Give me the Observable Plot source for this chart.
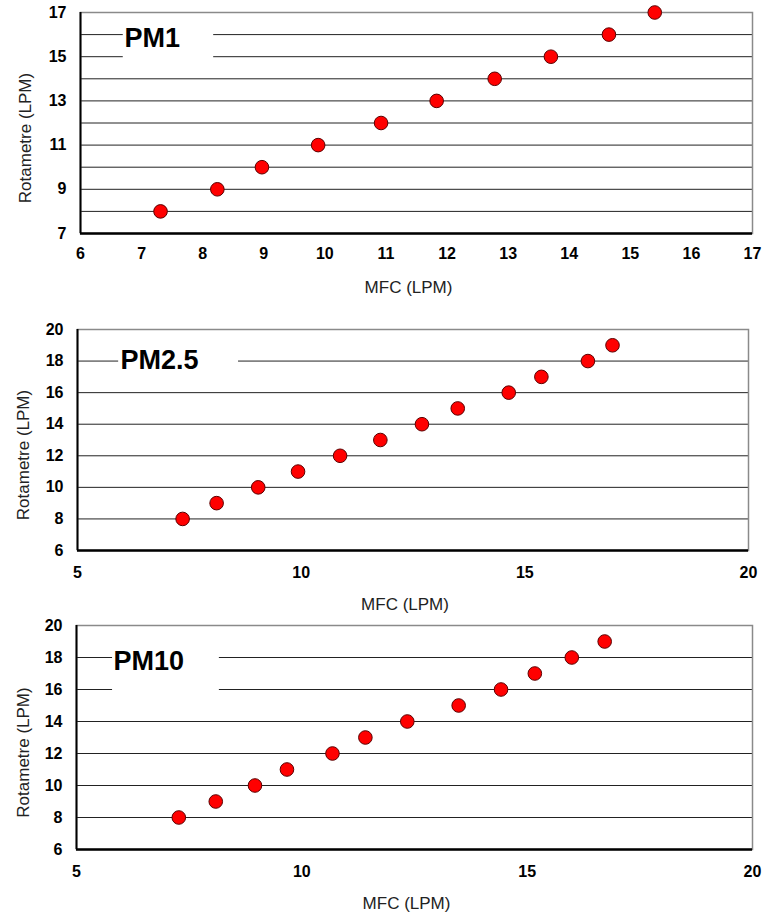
<!DOCTYPE html>
<html>
<head>
<meta charset="utf-8">
<script src="https://cdn.jsdelivr.net/npm/d3@7"></script>
<script src="https://cdn.jsdelivr.net/npm/@observablehq/plot@0.6"></script>
<style>
  html, body { margin: 0; padding: 0; background: #fff; }
  #chart { width: 766px; }
  #chart svg { display: block; }
</style>
</head>
<body>
<div id="chart"></div>
<script>
// ---- data ----
const pm1MFC = [7.31, 8.24, 8.97, 9.89, 10.92, 11.83, 12.78, 13.70, 14.65, 15.40];
const pm1Rot = [8, 9, 10, 11, 12, 13, 14, 15, 16, 17];

const pm25MFC = [7.35, 8.11, 9.04, 9.93, 10.87, 11.77, 12.70, 13.50, 14.64, 15.37, 16.41, 16.96];
const pm25Rot = [8, 9, 10, 11, 12, 13, 14, 15, 16, 17, 18, 19];

const pm10MFC = [7.27, 8.09, 8.96, 9.67, 10.68, 11.41, 12.34, 13.48, 14.42, 15.17, 15.99, 16.72];
const pm10Rot = [8, 9, 10, 11, 12, 13, 14, 15, 16, 17, 18, 19];

const pm1XTicks = [6, 7, 8, 9, 10, 11, 12, 13, 14, 15, 16, 17];
const pm1YTicks = [7, 9, 11, 13, 15, 17];
const pm1Grid = [8, 9, 10, 11, 12, 13, 14, 15, 16];

const pmXTicks = [5, 10, 15, 20];
const pmYTicks = [6, 8, 10, 12, 14, 16, 18, 20];
const pmGrid = [8, 10, 12, 14, 16, 18];

const panelTitles = ["PM1", "PM2.5", "PM10"];
const xLabel = "MFC (LPM)";
const yLabel = "Rotametre (LPM)";

// ---- panels ----
const panels = [
  {
    title: panelTitles[0], xs: pm1MFC, ys: pm1Rot,
    xDomain: [6, 17], yDomain: [7, 17], xTicks: pm1XTicks, yTicks: pm1YTicks, grid: pm1Grid,
    height: 300, mt: 12, mb: 67, ml: 80, mr: 14, xPad: 14, yDx: -55,
    box: {x1: 6.70, x2: 8.18, y1: 14.8, y2: 16.5}, tx: 6.72, ty: 15.82
  },
  {
    title: panelTitles[1], xs: pm25MFC, ys: pm25Rot,
    xDomain: [5, 20], yDomain: [6, 20], xTicks: pmXTicks, yTicks: pmYTicks, grid: pmGrid,
    height: 314, mt: 29, mb: 64, ml: 77, mr: 18, xPad: 16, yDx: -54,
    box: {x1: 5.92, x2: 8.6, y1: 16.9, y2: 19.0}, tx: 5.96, ty: 18.03
  },
  {
    title: panelTitles[2], xs: pm10MFC, ys: pm10Rot,
    xDomain: [5, 20], yDomain: [6, 20], xTicks: pmXTicks, yTicks: pmYTicks, grid: pmGrid,
    height: 308, mt: 11, mb: 73, ml: 76, mr: 14, xPad: 16, yDx: -53,
    box: {x1: 5.8, x2: 8.17, y1: 15.5, y2: 18.75}, tx: 5.82, ty: 17.75
  }
];

const container = document.getElementById("chart");

for (const p of panels) {
  const pts = p.xs.map((x, i) => ({mfc: x, rot: p.ys[i]}));
  const chart = Plot.plot({
    width: 766,
    height: p.height,
    marginTop: p.mt,
    marginBottom: p.mb,
    marginLeft: p.ml,
    marginRight: p.mr,
    style: {fontFamily: "'Liberation Sans', Arial, sans-serif", fontSize: "16px", fontWeight: "bold", color: "#000", background: "#fff"},
    x: {domain: p.xDomain},
    y: {domain: p.yDomain},
    marks: [
      Plot.ruleY(p.grid, {stroke: "#222", strokeWidth: 1}),
      Plot.rect([p.box], {x1: "x1", x2: "x2", y1: "y1", y2: "y2", fill: "#fff"}),
      Plot.frame({stroke: "#8a8a8a", strokeWidth: 1.5}),
      Plot.ruleX([p.xDomain[0]], {stroke: "#000", strokeWidth: 2}),
      Plot.ruleY([p.yDomain[0]], {stroke: "#000", strokeWidth: 2.5}),
      Plot.axisX({ticks: p.xTicks, tickSize: 0, tickPadding: p.xPad, label: null, fontWeight: "bold", fontSize: 16}),
      Plot.axisY({ticks: p.yTicks, tickSize: 0, tickPadding: 14, label: null, fontWeight: "bold", fontSize: 16}),
      Plot.text([p.title], {x: () => p.tx, y: () => p.ty, text: d => d, textAnchor: "start", fontSize: 27, fontWeight: "bold", fill: "#000"}),
      Plot.dot(pts, {x: "mfc", y: "rot", r: 6.8, fill: "#ff0000", stroke: "#5a0000", strokeWidth: 1}),
      Plot.text([xLabel], {frameAnchor: "bottom", dy: 54, dx: -8, lineAnchor: "middle", textAnchor: "middle", text: d => d, fontSize: 17, fontWeight: "normal", fill: "#222"}),
      Plot.text([yLabel], {frameAnchor: "left", dx: p.yDx, dy: 15, rotate: -90, textAnchor: "middle", lineAnchor: "middle", text: d => d, fontSize: 17, fontWeight: "normal", fill: "#222"})
    ]
  });
  container.appendChild(chart);
}
</script>
</body>
</html>
